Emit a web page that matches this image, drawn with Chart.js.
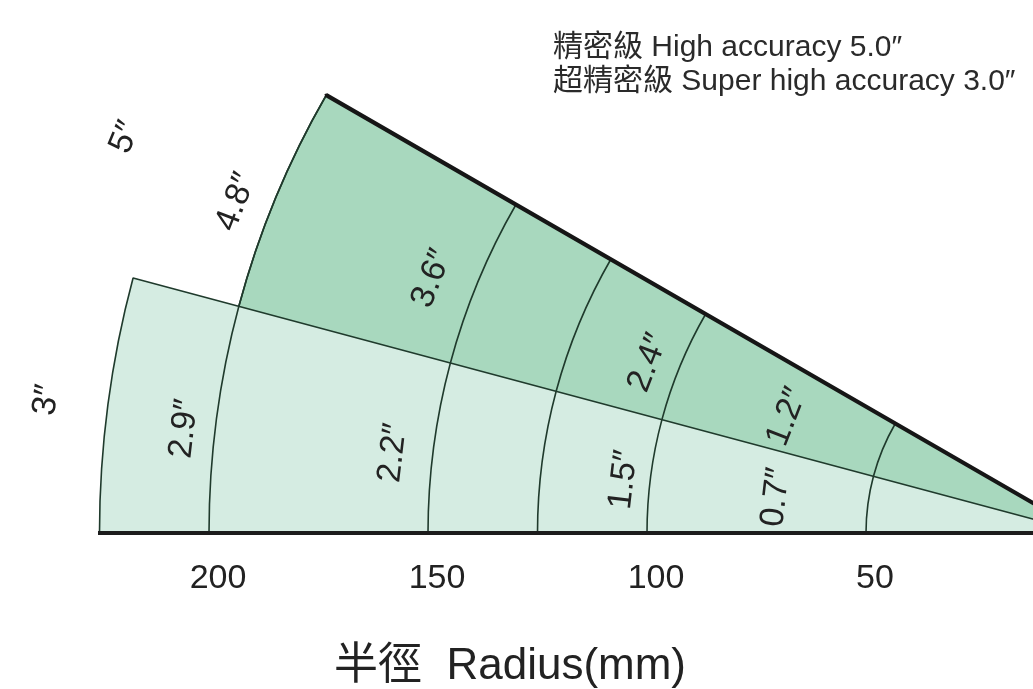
<!DOCTYPE html>
<html>
<head>
<meta charset="utf-8">
<script src="https://cdn.jsdelivr.net/npm/chart.js@4.4.1/dist/chart.umd.min.js"></script>
<style>
  html, body { margin: 0; padding: 0; background: #fff; }
  body { width: 1033px; height: 689px; overflow: hidden; position: relative; }
  #fan { position: absolute; left: -10px; top: -562px; }
  #axis { position: absolute; left: -65px; top: 0; }
</style>
</head>
<body>
<canvas id="fan" width="2190" height="2190"></canvas>
<canvas id="axis" width="1150" height="689"></canvas>
<script>
// radius in mm, angle in degrees measured up from the base line
var maxRadius = 250;
var sectorNames = ['5″', '3″'];
var sectorAngles = [30, 15];
var sectorRadii = [200, 225];
var sectorColors = ['#a8d8be', '#d5ece2'];
var arcRadii = [200, 150, 125, 100, 50];
var accuracy5 = ['4.8″', '3.6″', '2.4″', '1.2″'];
var accuracy5Radii = [208, 160, 107, 73];
var accuracy3 = ['2.9″', '2.2″', '1.5″', '0.7″'];
var accuracy3Radii = [207, 159, 106, 71];
var labelAngles = [21.3, 6.6];
var nameRadii = [237, 239];
var nameAngles = [22.4, 7.3];
var radiusTicks = [200, 150, 100, 50];
var legendLines = ['精密級 High accuracy 5.0″', '超精密級 Super high accuracy 3.0″'];

var lineColor = '#1f3a2c';
var textColor = '#222';
var fontFamily = '"Liberation Sans", "Noto Sans CJK TC", Arial, sans-serif';

var datasets = [];
// thick upper edge of the 5" sector
datasets.push({
  data: [0, sectorRadii[0]],
  angle: function (c) { return c.dataIndex === 0 ? sectorAngles[0] - 0.02 : 0.02; },
  backgroundColor: '#161616',
  borderColor: function (c) { return c.dataIndex === 0 ? 'rgba(0,0,0,0)' : '#161616'; },
  borderWidth: function (c) { return c.dataIndex === 0 ? 0 : 4; }
});
arcRadii.forEach(function (r) {
  datasets.push({ data: [r], angle: sectorAngles[0], backgroundColor: 'rgba(0,0,0,0)', borderColor: lineColor, borderWidth: 1.6 });
});
datasets.push({ data: [sectorRadii[1]], angle: sectorAngles[1], backgroundColor: sectorColors[1], borderColor: lineColor, borderWidth: 1.6 });
datasets.push({ data: [sectorRadii[0]], angle: sectorAngles[0], backgroundColor: sectorColors[0], borderColor: lineColor, borderWidth: 1.6 });

var fanLabels = {
  id: 'fanLabels',
  afterDatasetsDraw: function (chart) {
    var s = chart.scales.r, ctx = chart.ctx;
    function put(text, r, a, size) {
      var d = s.getDistanceFromCenterForValue(r);
      var t = Math.PI + a * Math.PI / 180;
      ctx.save();
      ctx.translate(s.xCenter + d * Math.cos(t), s.yCenter + d * Math.sin(t));
      ctx.rotate((a - 90) * Math.PI / 180);
      ctx.font = size + 'px ' + fontFamily;
      ctx.fillStyle = textColor;
      ctx.textAlign = 'center';
      ctx.textBaseline = 'middle';
      ctx.fillText(text, 0, 0);
      ctx.restore();
    }
    accuracy5.forEach(function (t, i) { put(t, accuracy5Radii[i], labelAngles[0], 34); });
    accuracy3.forEach(function (t, i) { put(t, accuracy3Radii[i], labelAngles[1], 34); });
    sectorNames.forEach(function (t, i) { put(t, nameRadii[i], nameAngles[i], 34); });
  }
};

new Chart(document.getElementById('fan'), {
  type: 'polarArea',
  data: { labels: ['', ''], datasets: datasets },
  options: {
    responsive: false,
    animation: false,
    events: [],
    layout: { padding: 0 },
    plugins: { legend: { display: false }, tooltip: { enabled: false } },
    scales: {
      r: {
        min: 0,
        max: maxRadius,
        startAngle: 270,
        ticks: { display: false },
        grid: { display: false },
        angleLines: { display: false },
        pointLabels: { display: false }
      }
    }
  },
  plugins: [fanLabels]
});

var legendText = {
  id: 'legendText',
  afterDraw: function (chart) {
    var ctx = chart.ctx;
    ctx.save();
    ctx.font = '30px ' + fontFamily;
    ctx.fillStyle = '#2a2a2a';
    ctx.textBaseline = 'alphabetic';
    legendLines.forEach(function (t, i) { ctx.fillText(t, 618, 56 + i * 34); });
    ctx.restore();
  }
};

new Chart(document.getElementById('axis'), {
  type: 'scatter',
  data: { datasets: [] },
  options: {
    responsive: false,
    animation: false,
    events: [],
    layout: { padding: 0 },
    plugins: {
      legend: { display: false },
      tooltip: { enabled: false },
      title: {
        display: true,
        position: 'bottom',
        text: '半徑  Radius(mm)',
        color: textColor,
        font: { family: fontFamily, size: 44, weight: 'normal', lineHeight: 1 },
        padding: 0
      }
    },
    scales: {
      x: {
        type: 'linear',
        reverse: true,
        min: 0,
        max: sectorRadii[1],
        afterBuildTicks: function (scale) {
          scale.ticks = radiusTicks.map(function (v) { return { value: v }; });
        },
        afterFit: function (scale) { scale.height = 112; },
        grid: { display: false, drawTicks: false },
        border: { display: true, color: '#1c1c1c', width: 4 },
        ticks: {
          padding: 25,
          labelOffset: 9,
          maxRotation: 0,
          autoSkip: false,
          color: textColor,
          font: { family: fontFamily, size: 34 }
        }
      },
      y: {
        display: true,
        grid: { display: false, drawTicks: false },
        border: { display: false },
        ticks: { display: false },
        afterFit: function (scale) { scale.width = 164.5; }
      }
    }
  },
  plugins: [legendText]
});
</script>
</body>
</html>
